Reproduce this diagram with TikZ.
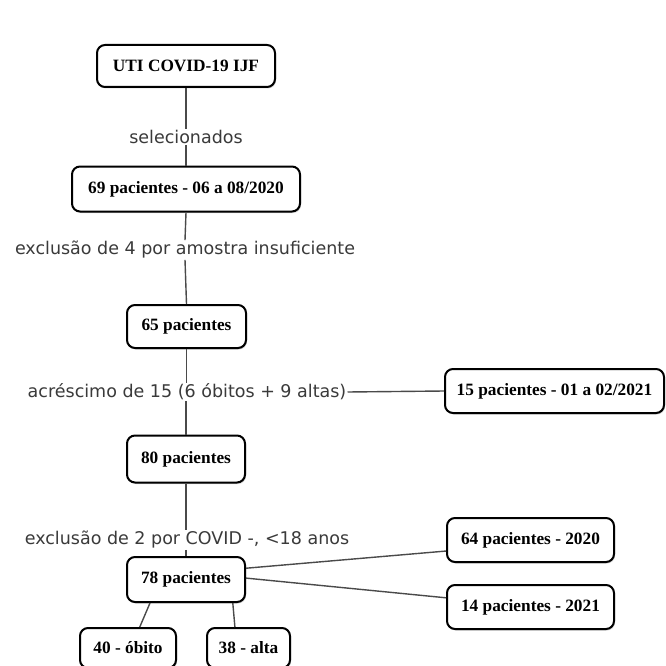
\documentclass[tikz,border=0pt]{standalone}
\usepackage{fontspec}
\setmainfont{Liberation Serif}
\newfontfamily\labelfont{DejaVu Sans}
\usetikzlibrary{calc,shadows}
\definecolor{linec}{HTML}{4A4A4A}
\definecolor{labc}{HTML}{3A3A3A}
\tikzset{
  box/.style={draw=black, line width=2pt, rounded corners=8pt, fill=white,
    font=\bfseries\fontsize{17.3}{19}\selectfont, inner sep=0pt, align=center,
    drop shadow={shadow xshift=1pt, shadow yshift=-1.5pt, opacity=0.35}},
  lab/.style={fill=white, text=labc, font=\labelfont\fontsize{17.5}{19}\selectfont, inner sep=1pt},
  conn/.style={draw=linec, line width=1.4pt}
}
\begin{document}
\begin{tikzpicture}[x=1pt,y=-1pt]
\useasboundingbox (0,0) rectangle (666,666);
\node[box, minimum width=178pt, minimum height=42pt] (uti) at (186,66) {UTI COVID-19 IJF};
\node[box, minimum width=228pt, minimum height=45pt] (b69) at (186,189) {69 pacientes - 06 a 08/2020};
\node[box, minimum width=119pt, minimum height=43pt] (b65) at (186.5,326.5) {65 pacientes};
\node[box, minimum width=219pt, minimum height=44pt] (b15) at (554.5,391) {15 pacientes - 01 a 02/2021};
\node[box, minimum width=118pt, minimum height=47pt] (b80) at (186,459) {80 pacientes};
\node[box, minimum width=118pt, minimum height=45pt] (b78) at (186,579.5) {78 pacientes};
\node[box, minimum width=167pt, minimum height=44pt] (b64) at (530.5,540) {64 pacientes - 2020};
\node[box, minimum width=167pt, minimum height=44pt] (b14) at (530.5,607) {14 pacientes - 2021};
\node[box, minimum width=96pt, minimum height=40pt] (b40) at (128,648) {40 - óbito};
\node[box, minimum width=83pt, minimum height=40pt] (b38) at (248.5,648) {38 - alta};

\node[lab] (sel) at (186,137) {selecionados};
\node[lab] (ex4) at (185,250) {exclusão de 4 por amostra insuficiente};
\node[lab] (acr) at (187,392) {acréscimo de 15 (6 óbitos + 9 altas)};
\node[lab] (ex2) at (187,540) {exclusão de 2 por COVID -, <18 anos};

\draw[conn] (uti.south) -- (sel.north);
\draw[conn] (sel.south) -- (b69.north);
\draw[conn] (b69.south) -- (ex4.north);
\draw[conn] (ex4.south) -- (b65.north);
\draw[conn] (b65.south) -- (acr.north -| b65.south);
\draw[conn] (acr.south -| b80.north) -- (b80.north);
\draw[conn] (acr.east) -- (b15.west);
\draw[conn] (b80.south) -- (ex2.north -| b80.south);
\draw[conn] (ex2.south -| b78.north) -- (b78.north);
\draw[conn] ($(b78.north east)!0.26!(b78.south east)$) -- ($(b64.north west)!0.74!(b64.south west)$);
\draw[conn] ($(b78.north east)!0.47!(b78.south east)$) -- ($(b14.north west)!0.30!(b14.south west)$);
\draw[conn] ($(b78.south west)!0.20!(b78.south east)$) -- ($(b40.north west)!0.62!(b40.north east)$);
\draw[conn] ($(b78.south west)!0.89!(b78.south east)$) -- ($(b38.north west)!0.34!(b38.north east)$);
\end{tikzpicture}
\end{document}
